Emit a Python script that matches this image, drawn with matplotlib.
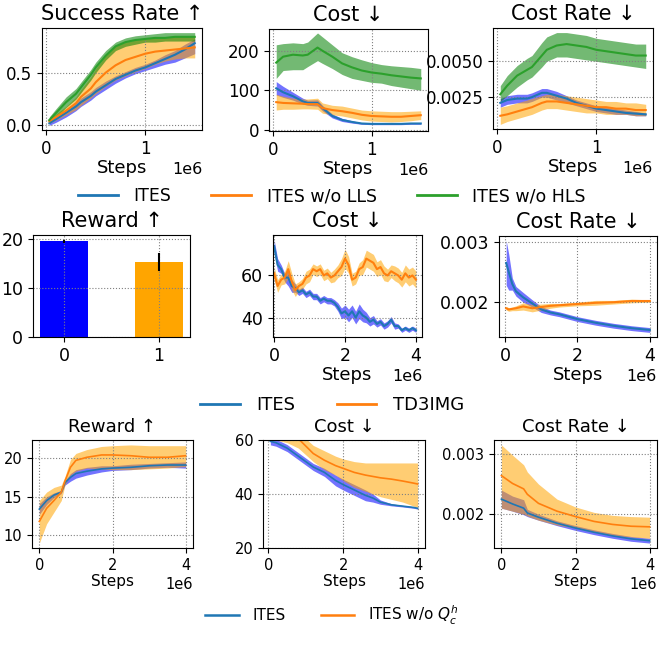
import matplotlib
matplotlib.use("Agg")
import matplotlib.pyplot as plt
from matplotlib.ticker import MultipleLocator

# ---- row 1: ablation (ITES / w/o LLS / w/o HLS), steps in 1e6 ----
steps1 = [0.03, 0.1, 0.2, 0.3, 0.35, 0.45, 0.5, 0.6, 0.7, 0.8, 0.9, 1.0, 1.1, 1.2, 1.3, 1.4, 1.5]

succ_ites = [0.02, 0.06, 0.12, 0.18, 0.22, 0.28, 0.32, 0.38, 0.44, 0.48, 0.52, 0.55, 0.59, 0.63, 0.67, 0.72, 0.78]
succ_ites_lo = [0.00, 0.03, 0.08, 0.14, 0.18, 0.24, 0.28, 0.34, 0.40, 0.45, 0.49, 0.52, 0.55, 0.58, 0.60, 0.64, 0.68]
succ_ites_hi = [0.04, 0.09, 0.15, 0.22, 0.26, 0.32, 0.36, 0.42, 0.47, 0.51, 0.55, 0.58, 0.62, 0.67, 0.71, 0.77, 0.82]
succ_lls = [0.04, 0.08, 0.14, 0.21, 0.27, 0.35, 0.41, 0.50, 0.57, 0.62, 0.65, 0.68, 0.70, 0.71, 0.72, 0.73, 0.74]
succ_lls_lo = [0.02, 0.05, 0.10, 0.15, 0.19, 0.26, 0.30, 0.37, 0.43, 0.47, 0.51, 0.54, 0.58, 0.61, 0.63, 0.64, 0.64]
succ_lls_hi = [0.06, 0.11, 0.18, 0.27, 0.34, 0.46, 0.54, 0.66, 0.76, 0.79, 0.81, 0.82, 0.83, 0.83, 0.84, 0.85, 0.85]
succ_hls = [0.05, 0.12, 0.22, 0.30, 0.36, 0.48, 0.55, 0.66, 0.75, 0.79, 0.81, 0.82, 0.83, 0.83, 0.84, 0.84, 0.84]
succ_hls_lo = [0.02, 0.08, 0.17, 0.25, 0.31, 0.43, 0.50, 0.62, 0.71, 0.75, 0.77, 0.79, 0.79, 0.80, 0.80, 0.80, 0.80]
succ_hls_hi = [0.08, 0.16, 0.27, 0.35, 0.41, 0.53, 0.60, 0.71, 0.79, 0.83, 0.85, 0.86, 0.87, 0.88, 0.88, 0.88, 0.88]

cost1_ites = [105, 95, 85, 72, 68, 68, 55, 35, 25, 20, 16, 15, 15, 15, 15, 16, 16]
cost1_ites_lo = [88, 82, 75, 65, 62, 60, 48, 30, 21, 17, 14, 13, 13, 13, 13, 14, 14]
cost1_ites_hi = [122, 110, 95, 80, 75, 76, 62, 40, 29, 23, 18, 17, 17, 17, 17, 18, 18]
cost1_lls = [70, 68, 67, 66, 65, 65, 55, 50, 47, 43, 38, 35, 34, 33, 33, 35, 37]
cost1_lls_lo = [50, 52, 52, 53, 53, 52, 42, 38, 35, 30, 25, 22, 21, 20, 21, 23, 26]
cost1_lls_hi = [90, 85, 80, 78, 78, 80, 68, 62, 60, 55, 50, 48, 47, 46, 46, 47, 48]
cost1_hls = [170, 185, 190, 188, 190, 208, 200, 185, 168, 158, 150, 145, 142, 138, 135, 132, 130]
cost1_hls_lo = [130, 150, 152, 152, 160, 175, 168, 155, 140, 130, 125, 120, 118, 112, 108, 104, 100]
cost1_hls_hi = [215, 218, 220, 218, 222, 245, 235, 215, 195, 185, 177, 170, 165, 162, 160, 158, 155]

rate1_ites = [0.0021, 0.0023, 0.0024, 0.0024, 0.0025, 0.0028, 0.0028, 0.0026, 0.0024, 0.0021, 0.0019, 0.0017, 0.0016, 0.0015, 0.0014, 0.00135, 0.0013]
rate1_ites_lo = [0.0018, 0.0020, 0.0021, 0.0021, 0.0022, 0.0025, 0.0025, 0.0023, 0.0021, 0.0019, 0.0017, 0.0015, 0.0014, 0.0013, 0.0013, 0.0012, 0.0012]
rate1_ites_hi = [0.0024, 0.0026, 0.0027, 0.0027, 0.0028, 0.0031, 0.0031, 0.0029, 0.0026, 0.0023, 0.0021, 0.0019, 0.0018, 0.0017, 0.0016, 0.0015, 0.0014]
rate1_lls = [0.0012, 0.0013, 0.0015, 0.0017, 0.0018, 0.0021, 0.0022, 0.0022, 0.0021, 0.0020, 0.0019, 0.0018, 0.0018, 0.0017, 0.0017, 0.0016, 0.0016]
rate1_lls_lo = [0.0006, 0.0008, 0.0010, 0.0012, 0.0013, 0.0016, 0.0017, 0.0017, 0.0016, 0.0015, 0.0014, 0.0014, 0.0013, 0.0013, 0.0013, 0.0012, 0.0012]
rate1_lls_hi = [0.0018, 0.0019, 0.0021, 0.0023, 0.0024, 0.0026, 0.0027, 0.0027, 0.0026, 0.0025, 0.0024, 0.0023, 0.0022, 0.0022, 0.0021, 0.0021, 0.0020]
rate1_hls = [0.0027, 0.0033, 0.0040, 0.0044, 0.0046, 0.0054, 0.0058, 0.0061, 0.0062, 0.0061, 0.0060, 0.0058, 0.0057, 0.0056, 0.0055, 0.0054, 0.0054]
rate1_hls_lo = [0.0022, 0.0026, 0.0032, 0.0037, 0.0039, 0.0046, 0.0050, 0.0053, 0.0053, 0.0052, 0.0051, 0.0050, 0.0049, 0.0048, 0.0047, 0.0046, 0.0045]
rate1_hls_hi = [0.0033, 0.0040, 0.0047, 0.0052, 0.0054, 0.0063, 0.0067, 0.0070, 0.0070, 0.0069, 0.0068, 0.0066, 0.0065, 0.0064, 0.0063, 0.0062, 0.0062]

# ---- row 2: ITES vs TD3IMG ----
bar_labels = [0, 1]
bar_reward = [19.5, 15.3]
bar_err = [0.3, 1.8]

steps2 = [0.0, 0.1, 0.2, 0.3, 0.4, 0.5, 0.6, 0.7, 0.8, 0.9, 1.0, 1.1, 1.2, 1.3, 1.4, 1.5, 1.6, 1.7, 1.8, 1.9, 2.0,
          2.1, 2.2, 2.3, 2.4, 2.5, 2.6, 2.7, 2.8, 2.9, 3.0, 3.1, 3.2, 3.3, 3.4, 3.5, 3.6, 3.7, 3.8, 3.9, 4.0]
cost2_ites = [74, 65, 63, 59, 59, 55, 54, 52, 53, 51, 52, 50, 50, 48, 49, 48, 48, 47, 45, 42, 43,
              41, 43, 40, 43, 41, 40, 38, 39, 37, 38, 36, 37, 39, 36, 36, 34, 35, 34, 35, 34]
cost2_ites_err = [3, 3, 2, 2, 4, 3, 2, 1.5, 1.5, 1.5, 1.5, 1.5, 1.5, 1.5, 1.5, 1.5, 1.5, 1.5, 2, 2.5, 3,
                  3, 3, 3, 3.5, 3, 2.5, 2, 2, 1.5, 1.5, 1.5, 1.5, 1.5, 1.5, 1, 1, 1, 1, 1, 1]
cost2_td3 = [61, 55, 58, 59, 63, 57, 53, 55, 56, 59, 60, 63, 62, 63, 60, 61, 59, 60, 62, 64, 68,
             65, 58, 59, 63, 64, 68, 67, 66, 63, 64, 61, 60, 62, 61, 60, 58, 61, 59, 60, 58]
cost2_td3_err = [3, 3, 2.5, 3, 4, 4, 3, 2, 2.5, 3, 3, 2.5, 2.5, 2.5, 2.5, 2.5, 2.5, 3, 3, 4, 4.5,
                 4, 3, 3, 3, 3.5, 4, 4, 4, 3.5, 3.5, 3.5, 3, 3, 3.5, 3.5, 3.5, 4, 4, 4, 4]

steps2r = [0.03, 0.1, 0.2, 0.3, 0.5, 0.75, 1.0, 1.25, 1.5, 2.0, 2.5, 3.0, 3.5, 4.0]
rate2_ites = [0.00265, 0.0025, 0.0023, 0.00218, 0.00208, 0.00198, 0.00188, 0.00183, 0.00180, 0.00172, 0.00166, 0.00161, 0.00157, 0.00154]
rate2_ites_err = [0.00037, 0.0003, 0.0001, 0.00008, 0.00008, 0.00006, 0.00005, 0.00004, 0.00004, 0.00004, 0.00004, 0.00004, 0.00004, 0.00004]
rate2_td3 = [0.00190, 0.00188, 0.00189, 0.00190, 0.00193, 0.00190, 0.00192, 0.00194, 0.00195, 0.00197, 0.00199, 0.00200, 0.00202, 0.00202]
rate2_td3_err = [0.00003, 0.00003, 0.00003, 0.00004, 0.00006, 0.00006, 0.00005, 0.00004, 0.00003, 0.00003, 0.00004, 0.00003, 0.00003, 0.00002]

# ---- row 3: ITES vs ITES w/o Q_c^h ----
steps3a = [0, 0.2, 0.4, 0.6, 0.7, 0.85, 1.0, 1.3, 1.7, 2.0, 2.5, 3.0, 3.5, 4.0]
rew3_ites = [13.4, 14.5, 15.2, 15.6, 16.8, 17.5, 18.0, 18.3, 18.6, 18.7, 18.8, 19.0, 19.1, 19.1]
rew3_ites_lo = [12.7, 14.0, 14.9, 15.4, 16.5, 17.0, 17.4, 17.8, 18.2, 18.4, 18.5, 18.7, 18.8, 18.7]
rew3_ites_hi = [14.1, 15.0, 15.5, 15.8, 17.1, 18.0, 18.5, 18.8, 19.0, 19.0, 19.2, 19.3, 19.4, 19.5]
rew3_noq = [11.8, 13.5, 14.5, 15.6, 17.0, 18.8, 19.7, 20.1, 20.4, 20.4, 20.3, 20.1, 20.1, 20.3]
rew3_noq_lo = [9.0, 11.5, 13.0, 14.5, 16.5, 17.8, 18.3, 18.7, 18.6, 18.5, 18.5, 18.6, 18.7, 18.9]
rew3_noq_hi = [14.5, 15.6, 16.2, 16.5, 17.6, 19.8, 20.6, 21.1, 21.5, 21.6, 21.7, 21.6, 21.6, 21.6]

steps3b = [0.05, 0.2, 0.5, 0.8, 1.2, 1.5, 1.8, 2.0, 2.3, 2.6, 2.8, 3.0, 3.3, 3.6, 3.9, 4.0]
cost3_ites = [59.5, 59, 57, 54, 50, 48, 45, 43.5, 41.5, 39.5, 38.5, 37, 36, 35.5, 35, 34.7]
cost3_ites_err = [1.3, 1.3, 1.3, 1.3, 1.3, 1.5, 2, 2, 2, 2, 1.5, 0.8, 0.4, 0.3, 0.3, 0.3]
cost3_noq = [62, 62, 61, 60.5, 55, 52.5, 50.5, 49.5, 48, 47, 46.5, 46, 45.5, 44.8, 44, 43.7]
cost3_noq_lo = [60, 60, 59, 57, 52, 49, 47, 45, 42.5, 41, 40, 39, 38, 37, 35.5, 35]
cost3_noq_hi = [64, 64, 63, 63, 58, 56, 54, 53, 52, 51.5, 51.5, 51.5, 51.5, 51.5, 51.5, 51.5]

steps3c = [0, 0.3, 0.6, 0.7, 1.0, 1.5, 2.0, 2.5, 3.0, 3.5, 4.0]
rate3_ites = [0.00225, 0.00217, 0.00210, 0.00202, 0.00195, 0.00185, 0.00177, 0.00170, 0.00164, 0.00159, 0.00156]
rate3_ites_lo = [0.00210, 0.00205, 0.00199, 0.00196, 0.00190, 0.00181, 0.00173, 0.00166, 0.00160, 0.00155, 0.00152]
rate3_ites_hi = [0.00240, 0.00230, 0.00224, 0.00208, 0.00200, 0.00189, 0.00181, 0.00174, 0.00168, 0.00163, 0.00160]
rate3_noq = [0.00264, 0.00251, 0.00242, 0.00233, 0.00218, 0.00205, 0.00196, 0.00188, 0.00183, 0.00180, 0.00179]
rate3_noq_lo = [0.00210, 0.00205, 0.00200, 0.00197, 0.00190, 0.00182, 0.00177, 0.00170, 0.00165, 0.00162, 0.00160]
rate3_noq_hi = [0.00315, 0.00298, 0.00282, 0.00270, 0.00250, 0.00225, 0.00212, 0.00203, 0.00198, 0.00196, 0.00195]

LINE = {"b": "tab:blue", "o": "tab:orange", "g": "tab:green"}
FILL = {"b": "blue", "o": "orange", "g": "green"}

fig = plt.figure(figsize=(6.64, 6.45), dpi=100)
W, H = 664.0, 645.0


def add_ax(x0, y0, x1, y1):
    # pixel box (top-left origin) -> figure fraction
    return fig.add_axes([x0 / W, 1 - y1 / H, (x1 - x0) / W, (y1 - y0) / H])


def band(ax, x, mean, lo, hi, c, lw=1.5):
    xs = [v * 1e6 for v in x]
    ax.fill_between(xs, lo, hi, color=FILL[c], alpha=0.55, linewidth=0)
    ax.plot(xs, mean, color=LINE[c], lw=lw)


def band_err(ax, x, mean, err, c, lw=1.5):
    lo = [m - e for m, e in zip(mean, err)]
    hi = [m + e for m, e in zip(mean, err)]
    band(ax, x, mean, lo, hi, c, lw)


def style(ax, title, tsize, lsize, xsize, osize, xstep=None, steps=True):
    ax.set_title(title, fontsize=tsize)
    ax.tick_params(labelsize=lsize)
    ax.grid(True, linestyle=":", color="gray", linewidth=0.8)
    if steps:
        ax.set_xlabel("Steps", fontsize=xsize, labelpad=1)
        ax.xaxis.set_major_locator(MultipleLocator(xstep))
        ax.xaxis.get_offset_text().set_fontsize(osize)


# row 1
ax = add_ax(42, 28, 202, 130)
band(ax, steps1, succ_ites, succ_ites_lo, succ_ites_hi, "b")
band(ax, steps1, succ_lls, succ_lls_lo, succ_lls_hi, "o")
band(ax, steps1, succ_hls, succ_hls_lo, succ_hls_hi, "g")
ax.yaxis.set_major_locator(MultipleLocator(0.5))
style(ax, "Success Rate ↑", 15, 12, 13, 11.5, 1e6)

ax = add_ax(269, 29, 428, 131)
band(ax, steps1, cost1_ites, cost1_ites_lo, cost1_ites_hi, "b")
band(ax, steps1, cost1_lls, cost1_lls_lo, cost1_lls_hi, "o")
band(ax, steps1, cost1_hls, cost1_hls_lo, cost1_hls_hi, "g")
ax.set_ylim(-3, 255)
ax.yaxis.set_major_locator(MultipleLocator(100))
style(ax, "Cost ↓", 15, 12, 13, 11.5, 1e6)

ax = add_ax(493, 28, 653, 129)
band(ax, steps1, rate1_ites, rate1_ites_lo, rate1_ites_hi, "b")
band(ax, steps1, rate1_lls, rate1_lls_lo, rate1_lls_hi, "o")
band(ax, steps1, rate1_hls, rate1_hls_lo, rate1_hls_hi, "g")
ax.yaxis.set_major_locator(MultipleLocator(0.0025))
style(ax, "Cost Rate ↓", 15, 12, 13, 11.5, 1e6)

h = [plt.Line2D([], [], color=LINE[c], lw=2) for c in "bog"]
fig.legend(h, ["ITES", "ITES w/o LLS", "ITES w/o HLS"], loc="center", bbox_to_anchor=(0.5, 1 - 196 / H),
           ncol=3, frameon=False, fontsize=12.5, handlelength=2.3, handletextpad=0.9, columnspacing=2.3)

# row 2
ax = add_ax(33, 235, 190, 337)
ax.bar(bar_labels, bar_reward, width=0.5, color=["blue", "orange"], yerr=bar_err,
       error_kw={"ecolor": "black", "elinewidth": 1.5})
ax.set_xticks(bar_labels)
ax.yaxis.set_major_locator(MultipleLocator(10))
style(ax, "Reward ↑", 15, 12.5, 13, 11.5, steps=False)

ax = add_ax(273, 235, 422, 337)
band_err(ax, steps2, cost2_ites, cost2_ites_err, "b")
band_err(ax, steps2, cost2_td3, cost2_td3_err, "o")
ax.set_xlim(-0.03e6, 4.17e6)
ax.yaxis.set_major_locator(MultipleLocator(20))
style(ax, "Cost ↓", 15, 12.5, 13, 11.5, 2e6)

ax = add_ax(499, 236, 657, 337)
band_err(ax, steps2r, rate2_ites, rate2_ites_err, "b")
band_err(ax, steps2r, rate2_td3, rate2_td3_err, "o")
ax.yaxis.set_major_locator(MultipleLocator(0.001))
style(ax, "Cost Rate ↓", 15, 12.5, 13, 11.5, 2e6)

h = [plt.Line2D([], [], color=LINE[c], lw=2) for c in "bo"]
fig.legend(h, ["ITES", "TD3IMG"], loc="center", bbox_to_anchor=(0.5, 1 - 405 / H),
           ncol=2, frameon=False, fontsize=13, handlelength=2.2, handletextpad=0.9, columnspacing=2.3)

# row 3
ax = add_ax(32, 440, 193, 548)
band(ax, steps3a, rew3_ites, rew3_ites_lo, rew3_ites_hi, "b", 1.2)
band(ax, steps3a, rew3_noq, rew3_noq_lo, rew3_noq_hi, "o", 1.2)
ax.yaxis.set_major_locator(MultipleLocator(5))
style(ax, "Reward ↑", 13, 10.5, 11, 10.5, 2e6)

ax = add_ax(263, 440, 425, 548)
band_err(ax, steps3b, cost3_ites, cost3_ites_err, "b", 1.2)
band(ax, steps3b, cost3_noq, cost3_noq_lo, cost3_noq_hi, "o", 1.2)
ax.set_ylim(20, 60)
ax.yaxis.set_major_locator(MultipleLocator(20))
style(ax, "Cost ↓", 13, 10.5, 11, 10.5, 2e6)

ax = add_ax(494, 440, 657, 548)
band(ax, steps3c, rate3_ites, rate3_ites_lo, rate3_ites_hi, "b", 1.2)
band(ax, steps3c, rate3_noq, rate3_noq_lo, rate3_noq_hi, "o", 1.2)
ax.yaxis.set_major_locator(MultipleLocator(0.001))
style(ax, "Cost Rate ↓", 13, 10.5, 11, 10.5, 2e6)

h = [plt.Line2D([], [], color=LINE[c], lw=1.8) for c in "bo"]
fig.legend(h, ["ITES", "ITES w/o $Q_c^h$"], loc="center", bbox_to_anchor=(0.5, 1 - 615 / H),
           ncol=2, frameon=False, fontsize=11, handlelength=2.2, handletextpad=0.9, columnspacing=2.3)

fig.savefig("out.png", dpi=100)
